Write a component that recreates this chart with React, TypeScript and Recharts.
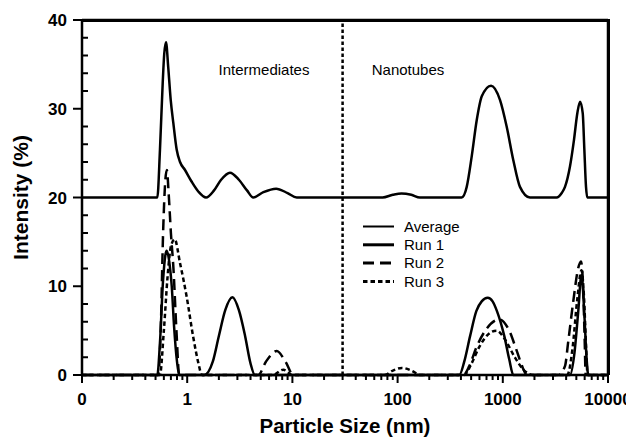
import React from 'react';
import { LineChart, Line, XAxis, YAxis, ReferenceLine, ReferenceDot, Legend, Label } from 'recharts';

const FONT = 'Arial, "Liberation Sans", Helvetica, sans-serif';
const AVG_OFFSET = 20;

// Average (drawn offset by +20)
const avgSizes = [0.1, 0.52, 0.551, 0.585, 0.605, 0.629, 0.66, 0.697, 0.738, 0.794, 0.855, 0.953, 1.1, 1.28, 1.51, 1.8, 2.1, 2.55, 3.1, 3.7, 4.25, 5.3, 7, 9, 11, 72, 90, 109, 135, 163, 406, 454, 506, 565, 631, 773, 940, 1088, 1259, 1456, 1814, 3250, 3630, 3900, 4350, 4750, 5110, 5420, 5750, 5960, 6180, 6360, 10000];
const avgIntensity = [0, 0, 5.4, 12.9, 16.2, 17.5, 14.7, 11, 8.4, 5.4, 4, 3.1, 1.8, 0.65, 0, 0.8, 2, 2.8, 2, 0.8, 0, 0.6, 1, 0.5, 0, 0, 0.3, 0.45, 0.3, 0, 0, 1.2, 4.6, 8.7, 11.4, 12.6, 11, 8, 4.2, 1.2, 0, 0, 0.5, 1.2, 3.5, 6.5, 9.5, 10.8, 9.5, 5.4, 1.2, 0, 0];

const run1Sizes = [0.1, 0.52, 0.55, 0.59, 0.62, 0.64, 0.68, 0.713, 0.75, 0.8, 0.84, 1.45, 1.75, 2.0, 2.3, 2.69, 3.1, 3.55, 4.0, 4.4, 386, 430, 488, 560, 630, 719, 800, 880, 1035, 1150, 1259, 4350, 4800, 5200, 5600, 5950, 6250, 6500, 10000];
const run1Intensity = [0, 0, 3.5, 10.7, 13.5, 14, 12.5, 10, 5.5, 1.5, 0, 0, 1.5, 4.4, 7.3, 8.75, 7.3, 4.4, 1.3, 0, 0, 1.5, 4.35, 7.2, 8.3, 8.7, 8.3, 7.2, 4.35, 1.8, 0, 0, 2.5, 7, 11.3, 7, 2, 0, 0];

const run2Sizes = [0.1, 0.53, 0.56, 0.59, 0.62, 0.64, 0.67, 0.7, 0.74, 0.79, 0.84, 4.74, 5.6, 7.1, 8.6, 10.2, 422, 480, 565, 700, 927, 1150, 1350, 1550, 1690, 3370, 3900, 4200, 4700, 5200, 5530, 5800, 6000, 6140, 10000];
const run2Intensity = [0, 0, 5, 16, 22, 23.1, 20, 16, 12, 5, 0, 0, 1.5, 2.7, 1.5, 0, 0, 1, 3.2, 5.2, 6.27, 5, 2.8, 0.8, 0, 0, 1, 3.9, 8.5, 12, 12.8, 10, 4, 0, 0];

const run3Sizes = [0.1, 0.55, 0.6, 0.65, 0.7, 0.76, 0.855, 0.989, 1.14, 1.28, 1.38, 6.5, 8.2, 10, 75, 90, 110, 135, 165, 430, 500, 600, 730, 873, 1050, 1300, 1600, 1950, 4100, 4600, 5100, 5600, 5900, 6200, 6400, 10000];
const run3Intensity = [0, 0, 5, 11, 14.5, 15.3, 12.6, 8.8, 4.3, 1.3, 0, 0, 0.6, 0, 0, 0.5, 0.8, 0.5, 0, 0, 1.2, 3.2, 4.6, 5.0, 4.0, 2.0, 0.5, 0, 0, 3, 8.5, 11.8, 9, 3, 0, 0];

const X_MAJOR = [0.1, 1, 10, 100, 1000, 10000];
const X_TICK_LABELS = ['0', '1', '10', '100', '1000', '10000'];
const X_TICKS: number[] = [];
[0.1, 1, 10, 100, 1000].forEach((d) => {
  for (let k = 1; k <= 9; k++) X_TICKS.push(k * d);
});
X_TICKS.push(10000);
const Y_TICKS = [0, 2, 4, 6, 8, 10, 12, 14, 16, 18, 20, 22, 24, 26, 28, 30, 32, 34, 36, 38, 40];

const zip = (xs: number[], ys: number[], off = 0) =>
  xs.slice(0, Math.min(xs.length, ys.length)).map((x, i) => ({ x, y: ys[i] + off }));

const SERIES = [
  { name: 'Average', data: zip(avgSizes, avgIntensity, AVG_OFFSET), dash: undefined as string | undefined, legendWidth: 2 },
  { name: 'Run 1', data: zip(run1Sizes, run1Intensity), dash: undefined as string | undefined, legendWidth: 3 },
  { name: 'Run 2', data: zip(run2Sizes, run2Intensity), dash: '11 6', legendWidth: 3 },
  { name: 'Run 3', data: zip(run3Sizes, run3Intensity), dash: '4.5 3', legendWidth: 3 },
];

const XTick = (props: any) => {
  const { x, y, payload } = props;
  const v = payload.value;
  const idx = X_MAJOR.findIndex((m) => Math.abs(m - v) < 1e-9 * m);
  const major = idx >= 0;
  return (
    <g>
      <line x1={x} x2={x} y1={y} y2={y + (major ? 8 : 5)} stroke="#000" strokeWidth={2} />
      {major && (
        <text x={x} y={y + 30} textAnchor="middle" fontSize={17} fontWeight="bold" fontFamily={FONT} fill="#000">
          {X_TICK_LABELS[idx]}
        </text>
      )}
    </g>
  );
};

const YTick = (props: any) => {
  const { x, y, payload } = props;
  const v = payload.value;
  const major = v % 10 === 0;
  return (
    <g>
      {major ? (
        <line x1={x - 9} x2={x} y1={y} y2={y} stroke="#000" strokeWidth={2} />
      ) : (
        <line x1={x} x2={x + 6} y1={y} y2={y} stroke="#000" strokeWidth={2} />
      )}
      {major && (
        <text x={x - 15} y={y} dy={6} textAnchor="end" fontSize={17} fontWeight="bold" fontFamily={FONT} fill="#000">
          {v}
        </text>
      )}
    </g>
  );
};

const renderLegend = () => (
  <svg width={120} height={80} style={{ display: 'block' }}>
    {SERIES.map((s, i) => {
      const cy = 9.5 + i * 18.3;
      return (
        <g key={s.name}>
          <line x1={0} x2={31} y1={cy} y2={cy} stroke="#000" strokeWidth={s.legendWidth} strokeDasharray={s.dash} />
          <text x={41} y={cy + 5.3} fontSize={15} fontFamily={FONT} fill="#000">
            {s.name}
          </text>
        </g>
      );
    })}
  </svg>
);

const BORDER = { stroke: '#000', strokeWidth: 2.5 };

export default function App() {
  return (
    <div style={{ position: 'relative', width: 626, height: 430 }}>
      <LineChart width={626} height={430} margin={{ top: 12, right: 26, bottom: 0, left: 0 }}>
        <XAxis
          dataKey="x"
          type="number"
          scale="log"
          domain={[0.1, 10000]}
          ticks={X_TICKS}
          interval={0}
          tickLine={false}
          tickSize={0}
          tickMargin={0}
          tick={(p: any) => <XTick {...p} />}
          height={63}
          axisLine={BORDER}
        >
          <Label
            content={() => (
              <text x={337} y={425} textAnchor="middle" fontSize={20.5} fontWeight="bold" fontFamily={FONT} fill="#000">
                Particle Size (nm)
              </text>
            )}
          />
        </XAxis>
        <YAxis
          type="number"
          domain={[0, 40]}
          ticks={Y_TICKS}
          interval={0}
          tickLine={false}
          tickSize={0}
          tickMargin={0}
          tick={(p: any) => <YTick {...p} />}
          width={74}
          axisLine={BORDER}
        >
          <Label
            content={() => (
              <text
                x={20}
                y={189.5}
                transform="rotate(-90 20 189.5)"
                textAnchor="middle"
                fontSize={21}
                fontWeight="bold"
                fontFamily={FONT}
                fill="#000"
              >
                Intensity (%)
              </text>
            )}
          />
        </YAxis>
        <ReferenceLine y={40} stroke="#000" strokeWidth={2.5} ifOverflow="visible" />
        <ReferenceLine x={10000} stroke="#000" strokeWidth={2.5} ifOverflow="visible" />
        <ReferenceLine x={30} stroke="#000" strokeWidth={2.5} strokeDasharray="3.5 2.5" />
        <ReferenceDot
          x={5.37}
          y={34.4}
          r={0}
          fill="none"
          stroke="none"
          label={{ value: 'Intermediates', position: 'center', fontSize: 15, fill: '#000', fontFamily: FONT }}
        />
        <ReferenceDot
          x={125.6}
          y={34.4}
          r={0}
          fill="none"
          stroke="none"
          label={{ value: 'Nanotubes', position: 'center', fontSize: 15, fill: '#000', fontFamily: FONT }}
        />
        {SERIES.map((s) => (
          <Line
            key={s.name}
            name={s.name}
            data={s.data}
            dataKey="y"
            type="monotone"
            stroke="#000"
            strokeWidth={2.5}
            strokeDasharray={s.dash}
            dot={false}
            activeDot={false}
            isAnimationActive={false}
          />
        ))}
        <Legend
          layout="vertical"
          align="center"
          verticalAlign="middle"
          wrapperStyle={{ left: 355, top: 209, width: 120, height: 80 }}
          content={renderLegend}
        />
      </LineChart>
      <div
        style={{
          position: 'absolute',
          left: 74,
          top: 10.5,
          width: 527.5,
          height: 356.5,
          boxSizing: 'border-box',
          borderTop: '3px solid #000',
          borderRight: '3px solid #000',
          pointerEvents: 'none',
        }}
      />
    </div>
  );
}
